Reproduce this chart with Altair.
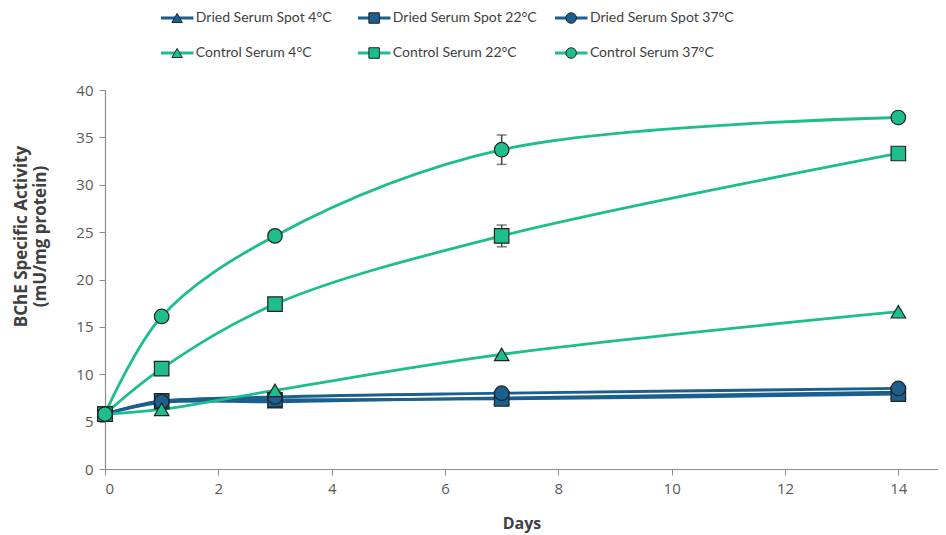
import altair as alt
import pandas as pd

days = [0, 1, 3, 7, 14]
series_names = [
    "Dried Serum Spot 4°C", "Dried Serum Spot 22°C", "Dried Serum Spot 37°C",
    "Control Serum 4°C", "Control Serum 22°C", "Control Serum 37°C",
]
dried_4 = [5.8, 7.0, 7.1, 7.5, 8.1]
dried_22 = [5.8, 7.2, 7.3, 7.4, 7.9]
dried_37 = [5.8, 7.1, 7.6, 8.0, 8.5]
control_4 = [5.8, 6.3, 8.3, 12.1, 16.6]
control_22 = [5.8, 10.6, 17.4, 24.6, 33.3]
control_37 = [5.8, 16.1, 24.6, 33.7, 37.1]
err_control_22 = [0, 0, 0, 1.15, 0]
err_control_37 = [0, 0, 0, 1.55, 0]
zeros = [0, 0, 0, 0, 0]

values = [dried_4, dried_22, dried_37, control_4, control_22, control_37]
errors = [zeros, zeros, zeros, zeros, err_control_22, err_control_37]
shapes = ["triangle-up", "square", "circle", "triangle-up", "square", "circle"]
BLUE = "#1b5f8f"
GREEN = "#1dbd8e"
colors = [BLUE, BLUE, BLUE, GREEN, GREEN, GREEN]

rows = []
for i, name in enumerate(series_names):
    for d, v, e in zip(days, values[i], errors[i]):
        rows.append({"series": name, "day": d, "value": v, "lo": v - e, "hi": v + e, "order": i})
df = pd.DataFrame(rows)

leg_rows = []
for i, name in enumerate(series_names):
    leg_rows.append({"series": name, "col": i % 3, "row": 1 - i // 3})
leg = pd.DataFrame(leg_rows)

color_scale = alt.Scale(domain=series_names, range=colors)
shape_scale = alt.Scale(domain=series_names, range=shapes)

W = 833
H = 379

x = alt.X("day:Q", scale=alt.Scale(domain=[0, 14.7], nice=False),
          axis=alt.Axis(values=[0, 2, 4, 6, 8, 10, 12, 14], format="d", title="Days", grid=False,
                        titleFontSize=16, titleFontWeight="bold", titleColor="#404040",
                        titlePadding=19, labelPadding=6))
y = alt.Y("value:Q", scale=alt.Scale(domain=[0, 40], nice=False),
          axis=alt.Axis(values=list(range(0, 41, 5)), format="d",
                        title=["BChE Specific Activity", "(mU/mg protein)"],
                        grid=False, titleFontSize=17, titleFontWeight="bold", titleColor="#404040",
                        titlePadding=26, labelPadding=6, titleY=146))

base = alt.Chart(df)

lines = base.mark_line(interpolate="catmull-rom", strokeWidth=2.8).encode(
    x=x, y=y,
    color=alt.Color("series:N", scale=color_scale, legend=None),
    detail="series:N",
    order="day:Q",
)

errbars = base.transform_filter("datum.hi > datum.lo").mark_rule(color="#444444", strokeWidth=1.5).encode(
    x="day:Q", y="lo:Q", y2="hi:Q")
caps_lo = base.transform_filter("datum.hi > datum.lo").mark_tick(color="#444444", size=10, thickness=1.5, orient="horizontal").encode(
    x="day:Q", y="lo:Q")
caps_hi = base.transform_filter("datum.hi > datum.lo").mark_tick(color="#444444", size=10, thickness=1.5, orient="horizontal").encode(
    x="day:Q", y="hi:Q")

points = base.mark_point(filled=True, size=210, stroke="#222222", strokeWidth=1.2, opacity=1).encode(
    x="day:Q", y="value:Q",
    fill=alt.Fill("series:N", scale=color_scale, legend=None),
    shape=alt.Shape("series:N", scale=shape_scale, legend=None),
    order="order:Q",
)

main = alt.layer(lines, errbars, caps_lo, caps_hi, points).properties(width=W, height=H)

# custom legend panel
LH = 65
lx = alt.Scale(domain=[-0.284, 4.228 - 0.284], nice=False, zero=False)
ly = alt.Scale(domain=[-0.571, 1.286], nice=False, zero=False)
lbase = alt.Chart(leg).transform_calculate(x2="datum.col + 0.165", xm="datum.col + 0.082", xt="datum.col + 0.172")
leg_lines = lbase.mark_rule(strokeWidth=2.8).encode(
    x=alt.X("col:Q", scale=lx, axis=None),
    x2="x2:Q",
    y=alt.Y("row:Q", scale=ly, axis=None),
    color=alt.Color("series:N", scale=color_scale, legend=None),
)
leg_pts = lbase.mark_point(filled=True, size=110, stroke="#222222", strokeWidth=1, opacity=1).encode(
    x=alt.X("xm:Q", scale=lx, axis=None),
    y=alt.Y("row:Q", scale=ly, axis=None),
    fill=alt.Fill("series:N", scale=color_scale, legend=None),
    shape=alt.Shape("series:N", scale=shape_scale, legend=None),
)
leg_text = lbase.mark_text(align="left", baseline="middle", fontSize=14, font="Lato", color="#404040", dx=1).encode(
    x=alt.X("xt:Q", scale=lx, axis=None),
    y=alt.Y("row:Q", scale=ly, axis=None),
    text="series:N",
)
legend_panel = alt.layer(leg_lines, leg_pts, leg_text).properties(width=W, height=LH)

chart = alt.vconcat(legend_panel, main, spacing=10).properties(
    padding={"left": 4, "top": 0, "right": 0, "bottom": 2},
    background="white",
).configure_view(stroke=None).configure_axis(
    domainColor="#8c8c8c", tickColor="#8c8c8c", tickSize=6, labelColor="#595959",
    labelFontSize=15, labelFont="Open Sans", titleFont="Open Sans", domainWidth=1.2,
).configure_text(font="Open Sans")

chart.save("out.html", embed_options={"renderer": "svg", "actions": False})
